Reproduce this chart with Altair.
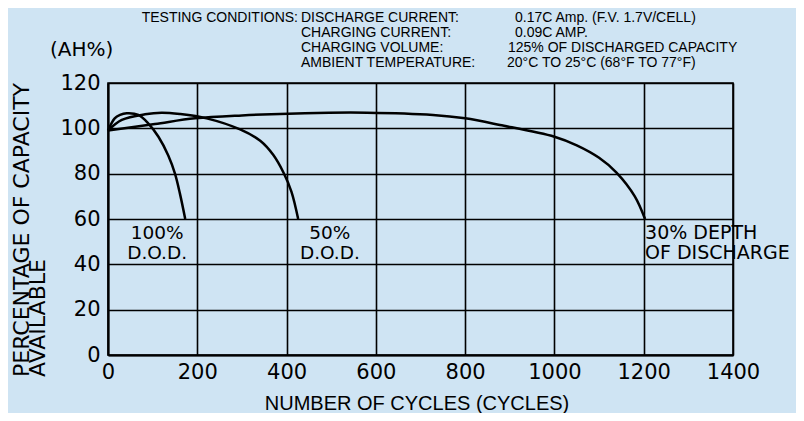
import altair as alt
import pandas as pd

# Curve data (cycles, % capacity)
c100_x = [0, 15, 27, 42, 68, 90, 113, 135, 150, 161, 173]
c100_y = [99, 104.4, 105.9, 106.6, 105.9, 102.2, 96.3, 88, 80, 71.3, 60]
c50_x = [0, 31, 83, 120, 161, 221, 296, 341, 370, 393, 411, 426]
c50_y = [99, 103.7, 106.2, 106.9, 106.3, 104.4, 99.5, 94.5, 88.3, 80.5, 72, 60]
c30_x = [0, 105, 195, 300, 441, 580, 728, 800, 878, 1000, 1050, 1100, 1139, 1180, 1203]
c30_y = [99, 101.9, 104.4, 105.7, 106.7, 106.9, 105.9, 104.4, 101.5, 96.3, 92.5, 87, 80.5, 70, 60]

x_ticks = [0, 200, 400, 600, 800, 1000, 1200, 1400]
y_ticks = [0, 20, 40, 60, 80, 100, 120]

labels_text = [["100%", "D.O.D."], ["50%", "D.O.D."], ["30% DEPTH", "OF DISCHARGE"]]
labels_x = [110, 497, 1203]
labels_y = [58, 58, 58]
labels_align = ["center", "center", "left"]

BG = "#cfe4f3"
FONT = "DejaVu Sans"
HFONT = "Liberation Sans"

rows = []
for name, xs, ys in [("100", c100_x, c100_y), ("50", c50_x, c50_y), ("30", c30_x, c30_y)]:
    for a, b in zip(xs, ys):
        rows.append({"series": name, "cycles": a, "cap": b})
df = pd.DataFrame(rows)

xscale = alt.Scale(domain=[0, 1400], nice=False, zero=False)
yscale = alt.Scale(domain=[0, 120], nice=False)

lines = alt.Chart(df).mark_line(interpolate="catmull-rom", color="black", strokeWidth=2.5).encode(
    x=alt.X("cycles:Q", scale=xscale,
            axis=alt.Axis(values=x_ticks, format="d", title=None, grid=True,
                          gridColor="black", gridWidth=1.6, gridOpacity=1,
                          domainColor="black", domainWidth=2, ticks=False,
                          labelFont=FONT, labelFontSize=21, labelColor="black",
                          labelPadding=6, labelFlush=False)),
    y=alt.Y("cap:Q", scale=yscale,
            axis=alt.Axis(values=y_ticks, title=None, grid=True,
                          gridColor="black", gridWidth=1.6, gridOpacity=1,
                          domainColor="black", domainWidth=2, ticks=False,
                          labelFont=FONT, labelFontSize=21, labelColor="black",
                          labelPadding=8)),
    detail="series:N",
)

ann_df = pd.DataFrame({"text": labels_text, "cycles": labels_x, "cap": labels_y, "align": labels_align})
ann_center = alt.Chart(ann_df[ann_df["align"] == "center"]).mark_text(
    font=FONT, fontSize=18.5, color="black", align="center", baseline="top", lineHeight=20
).encode(x=alt.X("cycles:Q", scale=xscale), y=alt.Y("cap:Q", scale=yscale), text="text")
ann_left = alt.Chart(ann_df[ann_df["align"] == "left"]).mark_text(
    font=FONT, fontSize=19, color="black", align="left", baseline="top", lineHeight=20, dx=0
).encode(x=alt.X("cycles:Q", scale=xscale), y=alt.Y("cap:Q", scale=yscale), text="text")

one = pd.DataFrame({"a": [0]})

def txt(s, x, y, size=14, align="left", font=HFONT, angle=None, baseline="middle"):
    kw = dict(text=s, font=font, fontSize=size, color="black", align=align, baseline=baseline)
    if angle is not None:
        kw["angle"] = angle
    return alt.Chart(one).mark_text(**kw).encode(x=alt.value(x), y=alt.value(y))

# plot origin at page (108, 83)
hdr = [
    txt("TESTING CONDITIONS:", 190, -65, align="right"),
    txt("DISCHARGE CURRENT:", 193, -65),
    txt("CHARGING CURRENT:", 193, -50),
    txt("CHARGING VOLUME:", 193, -35),
    txt("AMBIENT TEMPERATURE:", 193, -20),
    txt("0.17C Amp. (F.V. 1.7V/CELL)", 407, -65),
    txt("0.09C AMP.", 407, -50),
    txt("125% OF DISCHARGED CAPACITY", 400, -35),
    txt("20°C TO 25°C (68°F TO 77°F)", 399, -20),
    txt("(AH%)", -58, -33, size=20, font=FONT),
    txt("PERCENTAGE OF CAPACITY", -86, 294, size=22, font=FONT, angle=270),
    txt("AVAILABLE", -70, 294, size=22, font=FONT, angle=270),
    txt("NUMBER OF CYCLES (CYCLES)", 309, 321, size=20, align="center"),
]

chart = alt.layer(lines, ann_center, ann_left, *hdr).properties(
    width=625, height=272,
    background=BG,
    padding={"left": 100, "top": 75, "right": 63, "bottom": 58},
    autosize=alt.AutoSizeParams(type="none"),
).configure_view(stroke="black", strokeWidth=1.6, fill=BG)

chart.save("out.html", embed_options={"renderer": "svg", "actions": False})
